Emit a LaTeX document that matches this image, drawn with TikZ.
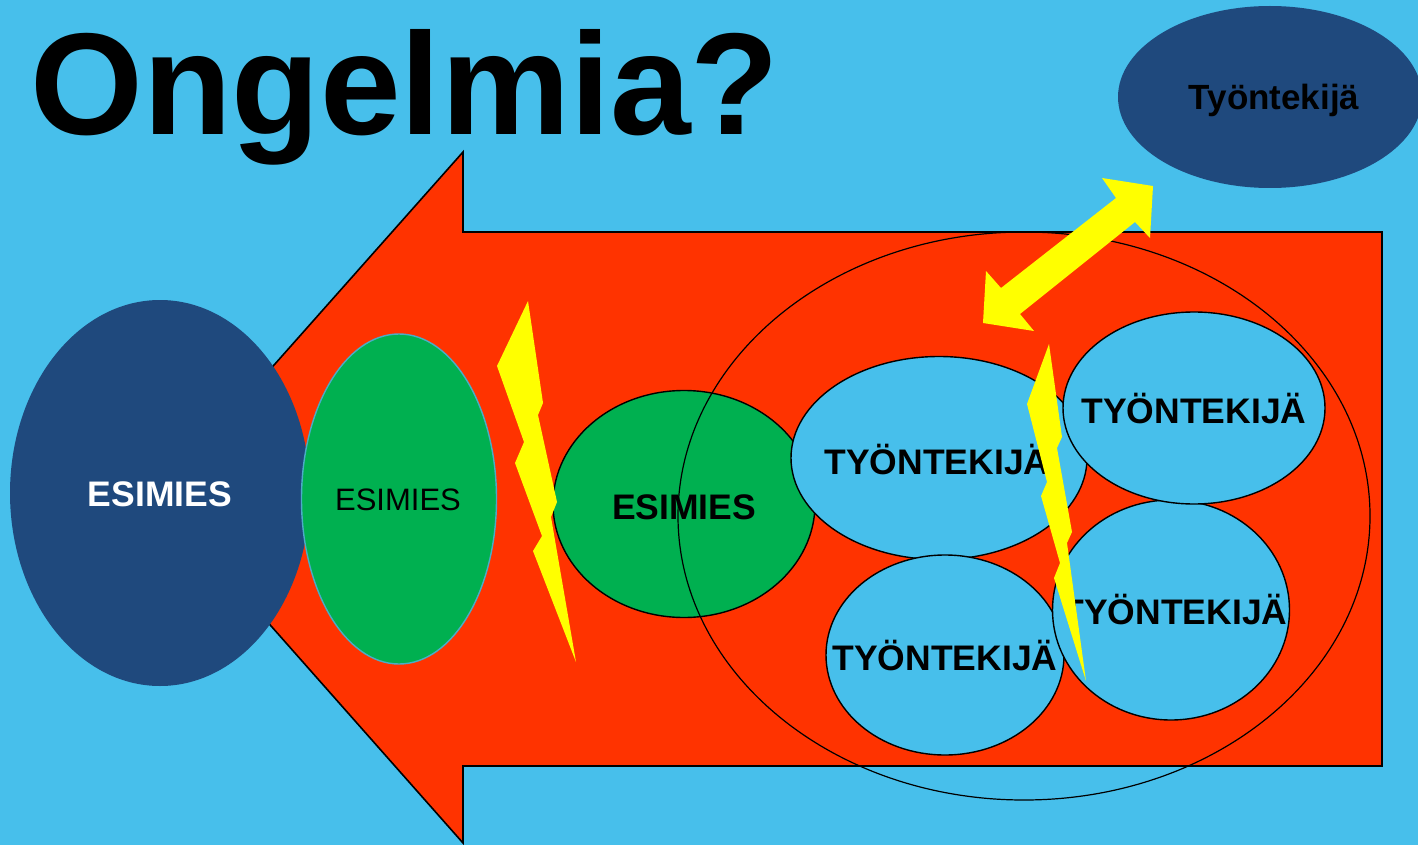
\documentclass[tikz,border=0pt]{standalone}
\usepackage{fontspec}
\setmainfont{Liberation Sans}
\usetikzlibrary{shapes.geometric}
\definecolor{bg}{RGB}{71,191,235}
\definecolor{redA}{RGB}{255,51,0}
\definecolor{grn}{RGB}{0,176,80}
\definecolor{dblue}{RGB}{31,73,125}
\definecolor{ylw}{RGB}{255,255,0}
\definecolor{edgeblue}{RGB}{75,172,198}
\begin{document}
\begin{tikzpicture}[x=1pt,y=-1pt,
  ell/.style={ellipse, inner sep=0pt, draw=black, line width=1.4pt},
  lbl/.style={font=\fontsize{35.5}{40}\selectfont\bfseries, inner sep=0pt, text=black},
  bolt/.style={fill=ylw, draw=none},
  worker/.style={ell, fill=bg},
]
\useasboundingbox (0,0) rectangle (1418,845);
\clip (0,0) rectangle (1418,845);
\fill[bg] (0,0) rectangle (1418,845);

% title
\node[anchor=base west, inner sep=0pt, font=\fontsize{145}{150}\selectfont\bfseries] (title) at (30,135) {Ongelmia?};

% big red arrow
\filldraw[fill=redA, draw=black, line width=1.6pt]
  (157,497) -- (463,152) -- (463,232) -- (1382,232) -- (1382,766) -- (463,766) -- (463,843) -- cycle;

% top right employee
\node[ellipse, fill=dblue, inner sep=0pt, minimum width=304pt, minimum height=182pt] (emp) at (1270,97) {};
\node[inner sep=0pt, font=\fontsize{35}{40}\selectfont\bfseries] (empl) at (1274,100) {Työntekijä};

% leaders
\node[ellipse, fill=dblue, inner sep=0pt, minimum width=300pt, minimum height=386pt] (boss) at (160,493) {};
\node[lbl, text=white] (bossl) at (160,494) {ESIMIES};

\node[ellipse, fill=grn, draw=edgeblue, line width=1.4pt, inner sep=0pt, minimum width=195pt, minimum height=330pt] (g1) at (399,499) {};
\node[inner sep=0pt, font=\fontsize{31}{36}\selectfont] (g1l) at (398,500) {ESIMIES};

\node[ell, fill=grn, minimum width=262pt, minimum height=227pt] (g2) at (684,504) {};
\node[lbl] (g2l) at (684,507) {ESIMIES};

% lightning 1
\fill[bolt] (528,301) -- (543,403) -- (538,415) -- (557,502) -- (551,517) -- (576,662)
  -- (533,551) -- (542,536) -- (515,463) -- (524,442) -- (497,366) -- cycle;

% group ellipse
\node[ellipse, draw=black, line width=1.2pt, inner sep=0pt, minimum width=692pt, minimum height=568pt] (group) at (1024,516) {};

% workers
\node[worker, minimum width=296pt, minimum height=203pt] (wA) at (939,458) {};
\node[lbl] (wAl) at (937,460) {TYÖNTEKIJÄ};
\node[worker, minimum width=238pt, minimum height=200pt] (wD) at (945,655) {};
\node[lbl] (wDl) at (945,656) {TYÖNTEKIJÄ};
\node[worker, minimum width=237pt, minimum height=220pt] (wC) at (1171,610) {};
\node[lbl] (wCl) at (1175,610) {TYÖNTEKIJÄ};
\node[worker, minimum width=262pt, minimum height=192pt] (wB) at (1194,408) {};
\node[lbl] (wBl) at (1194,409) {TYÖNTEKIJÄ};

% lightning 2
\fill[bolt] (1049,344) -- (1062,437) -- (1057,448) -- (1072,532) -- (1067,543) -- (1086,681)
  -- (1054,578) -- (1060,563) -- (1041,496) -- (1047,482) -- (1027,404) -- cycle;

% yellow double arrow
\fill[ylw] (983,323) -- (986,271) -- (1001,288) -- (1116,198) -- (1102,178) -- (1153,186)
  -- (1150,238) -- (1135,222) -- (1020,314) -- (1034,331) -- cycle;
\end{tikzpicture}
\end{document}
